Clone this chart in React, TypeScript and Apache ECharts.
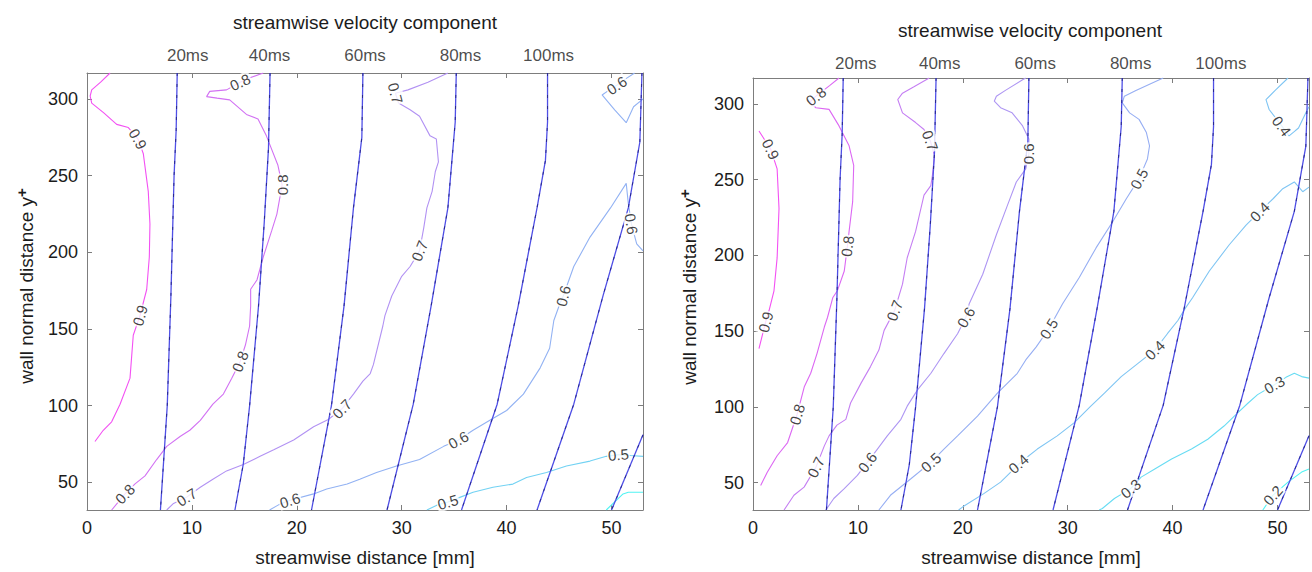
import React, { useEffect, useRef } from "react";
import * as echarts from "echarts";

// ---------- axis ticks / labels ----------
const xTicks = [0, 10, 20, 30, 40, 50];
const yTicks = [50, 100, 150, 200, 250, 300];
const timeLabels = ["20ms", "40ms", "60ms", "80ms", "100ms"];
const leftTimeLabelX = [9.6, 17.4, 26.5, 35.6, 44.0];
const rightTimeLabelX = [9.8, 17.8, 26.9, 36.0, 44.6];

// ---------- time lines (x mm, y+) ----------
const t20 = [[8.6, 317], [8.5, 280], [8.3, 250], [8.0, 172], [7.65, 100], [7.0, 32]];
const t40 = [[17.45, 317], [17.3, 268], [16.9, 220], [16.35, 165], [15.5, 100], [14.9, 62], [14.1, 32]];
const t60 = [[26.3, 317], [26.2, 275], [25.4, 229], [24.5, 165], [23.3, 100], [21.4, 32]];
const t80 = [[35.2, 317], [35.1, 285], [34.4, 229], [32.8, 165], [31.1, 101], [28.6, 32]];
const t100 = [[43.9, 317], [43.9, 285], [43.7, 260], [42.9, 229], [41.1, 165], [39.1, 101], [35.7, 32]];
const t120 = [[52.9, 317], [52.7, 272], [51.6, 229], [49.2, 172], [46.4, 101], [42.9, 32]];
const t140 = [[53, 81], [50.0, 32]];
const timeLines = [t20, t40, t60, t80, t100, t120, t140];

// ---------- left plot contours ----------
const L09 = [[2.2, 317], [1.3, 311], [0.45, 306], [0.3, 302], [0.45, 297.4], [1.6, 291], [2.83, 283.5], [3.94, 281.4], [4.86, 274], [5.37, 264.3], [5.84, 239.8], [6.0, 218.5], [5.94, 197], [5.69, 175.8], [5.05, 158.8], [4.41, 146], [4.1, 118], [3.15, 101], [2.35, 89.5], [1.55, 84], [0.76, 76.7]];
const L08 = [[16.8, 317], [15.6, 314], [14.6, 311], [13.3, 306], [11.7, 305], [11.4, 301.6], [12.4, 300.6], [13.6, 299.5], [15.2, 290], [16.3, 287], [17.1, 276], [18.2, 256.8], [18.6, 244], [18.1, 225], [17.6, 214], [16.8, 197], [16.2, 182], [15.6, 176], [15.6, 165], [15.5, 152], [15.1, 139.6], [14.6, 128.9], [13.8, 118], [13.0, 107.6], [12.0, 101], [10.8, 90.5], [9.8, 84], [8.87, 79.9], [7.6, 73.5], [6.64, 64.9], [5.53, 54.3], [4.58, 49], [3.62, 42.5], [2.35, 32]];
const L07 = [[34.4, 317], [32.5, 311], [30.6, 306], [29.4, 303.8], [29.7, 297.4], [30.8, 293], [31.7, 288.8], [32.7, 276], [33.3, 274], [33.5, 259], [33.2, 252.6], [32.9, 239.8], [32.4, 229], [32.1, 216], [31.7, 201], [30.8, 190.8], [30.0, 184.4], [29.05, 171.6], [28.4, 158.8], [28.2, 152], [27.3, 126.8], [27.0, 121], [26.3, 116], [25.4, 107.6], [24.3, 98], [23.0, 91], [21.6, 86.3], [19.7, 77.7], [17.8, 71.3], [16.5, 67], [14.9, 61.7], [13.3, 57.5], [12.0, 52], [10.8, 46.8], [9.5, 40.4], [8.2, 36], [7.6, 32]];
const L06a = [[52.2, 317], [51.2, 312.5], [50.5, 309], [49.8, 306], [49.1, 302.7], [50.3, 293], [51.4, 284.6], [52.1, 295], [52.9, 299.5], [53, 300]];
const L06b = [[53, 201], [52.4, 205.6], [51.9, 218.5], [51.6, 232], [51.4, 245], [49.9, 229], [47.95, 210], [46.4, 190.8], [45.4, 171.6], [45.1, 167], [44.5, 155.6], [44.1, 137.5], [43.2, 124.7], [41.6, 107.6], [40.0, 96.9], [38.4, 90.5], [36.8, 84], [35.4, 77.7], [34.0, 73.5], [31.7, 64.9], [29.5, 60.7], [27.6, 56.4], [26.0, 52.1], [24.8, 48.9], [22.85, 45.7], [21.6, 42.5], [19.35, 38.3], [18.3, 35.5], [17.4, 32]];
const L05 = [[53, 67], [51.8, 67.5], [50.65, 68.1], [49.5, 67], [47.95, 63.9], [45.7, 60.7], [43.8, 56.4], [41.9, 53.2], [40.6, 48.9], [38.7, 46.8], [36.8, 43.6], [35.6, 40.4], [34.4, 37.2], [33.3, 35], [32.4, 32]];
const L04 = [[49.5, 32], [51.1, 42.5], [51.6, 43.6], [53, 43.6]];

// [level, x, y, rotation]
const leftLabels = [
  [0.9, 4.86, 274, -61], [0.9, 5.05, 158.8, 74],
  [0.8, 14.6, 311, 25], [0.8, 18.6, 244, 90], [0.8, 14.6, 128.9, 68], [0.8, 3.62, 42.5, 45],
  [0.7, 29.4, 303.8, -75], [0.7, 31.7, 201, 68], [0.7, 24.3, 98, 46], [0.7, 9.5, 40.4, 32],
  [0.6, 50.5, 309, 34], [0.6, 51.9, 218.5, -81], [0.6, 45.4, 171.6, 75], [0.6, 35.4, 77.7, 29], [0.6, 19.35, 38.3, 17],
  [0.5, 50.65, 68.1, 5], [0.5, 34.4, 37.2, 17],
];

// ---------- right plot contours ----------
const R09 = [[0.57, 282], [1.69, 270], [2.3, 257], [2.48, 231], [2.3, 198.3], [2.0, 176.6], [1.53, 163.6], [1.2, 156], [0.57, 138.5]];
const R08 = [[8.2, 317], [7.3, 312], [6.0, 305], [5.4, 301], [6.0, 297.4], [7.25, 296.3], [8.2, 285.4], [9.16, 272.3], [9.6, 259.3], [9.5, 235.4], [9.16, 215.8], [9.0, 206], [8.7, 189.7], [8.04, 176.6], [7.6, 172], [7.1, 159], [6.8, 152.7], [6.1, 135.2], [5.5, 122.2], [4.9, 113.5], [4.2, 95], [3.3, 76.5], [2.3, 67.8], [1.36, 56.9], [0.73, 48.2]];
const R07 = [[16.8, 317], [15.3, 311], [14.25, 307], [13.8, 302.8], [14.25, 294], [15.5, 287.6], [16.3, 283], [16.9, 275.6], [17.3, 265.8], [17.1, 252.7], [16.95, 246], [16.3, 239.7], [15.5, 215.8], [14.7, 198.4], [14.25, 181], [13.5, 163.6], [12.5, 150.5], [12.0, 137.5], [11.2, 126.6], [10.3, 115.7], [9.3, 102.6], [8.85, 91.8], [8.0, 88], [7.25, 80.9], [6.8, 74.3], [6.0, 60.2], [4.87, 47.1], [3.9, 41.7], [2.96, 32]];
const R06 = [[26.0, 317], [25.7, 315.8], [24.1, 309], [23.2, 305], [23.0, 301.7], [23.6, 297.4], [24.7, 294], [25.7, 285.4], [26.3, 276.7], [26.3, 267], [26.0, 257], [25.1, 248.4], [24.2, 232], [23.2, 213.6], [21.9, 187.5], [20.6, 167.9], [20.3, 159.2], [19.5, 148.3], [18.2, 135.2], [16.96, 122.2], [15.7, 111.4], [14.7, 100.5], [14.1, 91.8], [12.8, 80.9], [11.86, 72.2], [10.9, 63.4], [9.95, 54.8], [8.7, 46.1], [7.7, 39.6], [6.94, 32]];
const R05 = [[39.1, 317], [36.5, 308.8], [35.4, 305], [35.2, 300.6], [35.9, 294], [36.8, 289.7], [37.5, 281], [37.8, 272.3], [37.6, 263.6], [36.8, 250.6], [35.6, 237.5], [34.3, 222.3], [32.7, 204.9], [31.1, 185.4], [29.5, 167.9], [28.2, 151.6], [27.0, 139.6], [26.0, 131], [25.2, 122.2], [23.3, 109.1], [21.4, 93.9], [19.5, 80.9], [18.2, 72.2], [16.96, 63.4], [15.05, 52.6], [13.1, 41.7], [12.0, 32]];
const R04a = [[51.0, 317], [49.8, 309], [48.9, 302.7], [49.2, 296.2], [50.4, 285.4], [51.1, 278.8], [52.0, 284], [52.7, 294], [53, 298]];
const R04b = [[53, 245], [52.4, 242], [51.6, 248.4], [50.5, 244], [49.6, 237.5], [48.3, 228.8], [47.0, 220], [45.4, 207], [43.5, 189.7], [41.9, 172], [41.2, 165], [40.5, 157], [39.5, 148.3], [38.3, 137.5], [36.7, 128.7], [35.1, 120], [33.5, 109.1], [32.2, 100.5], [30.6, 89.5], [29.0, 80.9], [27.1, 72.2], [25.6, 64], [25.2, 61.3], [23.6, 50.4], [22.0, 42.8], [20.0, 34.1], [19.6, 32]];
const R03 = [[53, 119], [52.3, 120], [51.6, 122.2], [50.8, 119.5], [49.7, 114.6], [48.1, 108.1], [47.2, 102.6], [46.2, 96.1], [44.9, 87.4], [43.35, 78.7], [41.8, 72.2], [39.9, 65.7], [38.3, 59.1], [37.0, 53.7], [36.0, 46.1], [34.45, 39.6], [33.3, 33], [33.0, 32]];
const R02 = [[48.6, 32], [49.55, 41.7], [51.0, 50.4], [52.3, 57], [53, 59]];

const rightLabels = [
  [0.9, 1.69, 270, -64], [0.9, 1.2, 156, 75],
  [0.8, 6.0, 305, 38], [0.8, 9.0, 206, 83], [0.8, 4.2, 95, 74],
  [0.7, 16.9, 275.6, -70], [0.7, 13.5, 163.6, 69], [0.7, 6.0, 60.2, 64],
  [0.6, 26.3, 267, 90], [0.6, 20.3, 159.2, 60], [0.6, 10.9, 63.4, 53],
  [0.5, 36.8, 250.6, 62], [0.5, 28.2, 151.6, 58], [0.5, 16.96, 63.4, 42],
  [0.4, 50.4, 285.4, -53], [0.4, 48.3, 228.8, 45], [0.4, 38.3, 137.5, 45], [0.4, 25.3, 62.5, 42],
  [0.3, 49.7, 114.6, 30], [0.3, 36.0, 46.1, 39],
  [0.2, 49.55, 41.7, 48],
];

const leftContours: [number, number[][]][] = [
  [0.9, L09], [0.8, L08], [0.7, L07], [0.6, L06a], [0.6, L06b], [0.5, L05], [0.4, L04],
];
const rightContours: [number, number[][]][] = [
  [0.9, R09], [0.8, R08], [0.7, R07], [0.6, R06], [0.5, R05], [0.4, R04a], [0.4, R04b], [0.3, R03], [0.2, R02],
];

const FONT = '"Liberation Sans", Arial, Helvetica, sans-serif';
const TEXT = "#1c1c1c";
const FRAME = "#7d7d7d";

function coolColor(v: number, lo: number, hi: number) {
  const t = Math.max(0, Math.min(1, (v - lo) / (hi - lo)));
  const w = 0.28;
  const g = 0.12; // slight grey mix to desaturate
  const mix = (c: number) => Math.round(((c * (1 - w) + w) * (1 - g) + 0.6 * g) * 255);
  return `rgb(${mix(t)},${mix(1 - t)},${mix(1)})`;
}

function axesFor(p: number) {
  const tickStyle = { color: FRAME, width: 1 };
  const xBottom = {
    type: "value", gridIndex: p, min: 0, max: 53, position: "bottom",
    axisLine: { show: true, onZero: false, lineStyle: tickStyle },
    axisTick: { show: true, inside: true, length: 5, customValues: xTicks, lineStyle: tickStyle },
    axisLabel: { show: true, customValues: xTicks, margin: 9, fontSize: 18, color: TEXT, fontFamily: FONT },
    splitLine: { show: false },
    name: "streamwise distance [mm]", nameLocation: "middle", nameGap: 38,
    nameTextStyle: { fontSize: 19, color: TEXT, fontFamily: FONT },
  };
  const xTop = {
    type: "value", gridIndex: p, min: 0, max: 53, position: "top",
    axisLine: { show: true, onZero: false, lineStyle: tickStyle },
    axisTick: { show: true, inside: true, length: 5, customValues: xTicks, lineStyle: tickStyle },
    axisLabel: { show: false }, splitLine: { show: false },
  };
  const yLeft = {
    type: "value", gridIndex: p, min: 32, max: 317, position: "left",
    axisLine: { show: true, onZero: false, lineStyle: tickStyle },
    axisTick: { show: true, inside: true, length: 5, customValues: yTicks, lineStyle: tickStyle },
    axisLabel: { show: true, customValues: yTicks, margin: 9, fontSize: 18, color: TEXT, fontFamily: FONT },
    splitLine: { show: false },
  };
  const yRight = {
    type: "value", gridIndex: p, min: 32, max: 317, position: "right",
    axisLine: { show: true, onZero: false, lineStyle: tickStyle },
    axisTick: { show: true, inside: true, length: 5, customValues: yTicks, lineStyle: tickStyle },
    axisLabel: { show: false }, splitLine: { show: false },
  };
  return { x: [xBottom, xTop], y: [yLeft, yRight] };
}

function seriesFor(p: number, contours: [number, number[][]][], labels: number[][], tlx: number[], lo: number, hi: number, tlDist: number) {
  const xi = 2 * p, yi = 2 * p;
  const out: any[] = [];
  contours.forEach(([lv, pts]) => {
    out.push({
      type: "line", xAxisIndex: xi, yAxisIndex: yi, data: pts, symbol: "none", showSymbol: false,
      silent: true, z: 3, lineStyle: { color: coolColor(lv, lo, hi), width: 1.1 },
    });
  });
  timeLines.forEach((pts) => {
    out.push({
      type: "line", xAxisIndex: xi, yAxisIndex: yi, data: pts, symbol: "none", showSymbol: false,
      silent: true, z: 4, lineStyle: { color: "#4f4fe6", width: 1.3 },
    });
    out.push({
      type: "line", xAxisIndex: xi, yAxisIndex: yi, data: pts, symbol: "none", showSymbol: false,
      silent: true, z: 4, lineStyle: { color: "#222282", width: 0.9, type: [3, 8] },
    });
  });
  out.push({
    type: "scatter", xAxisIndex: xi, yAxisIndex: yi, symbolSize: 1, silent: true, z: 6,
    itemStyle: { color: "rgba(0,0,0,0)" },
    label: {
      show: true, position: "inside", formatter: (q: any) => q.data.name,
      fontSize: 15, color: "#111", fontFamily: FONT, backgroundColor: "#fff", padding: [0, 1],
    },
    data: labels.map(([v, x, y, r]) => ({ name: v.toFixed(1), value: [x, y], label: { rotate: r } })),
  });
  out.push({
    type: "scatter", xAxisIndex: xi, yAxisIndex: yi, symbolSize: 1, silent: true, z: 6, clip: false,
    itemStyle: { color: "rgba(0,0,0,0)" },
    label: {
      show: true, position: "top", distance: tlDist, formatter: (q: any) => q.data.name,
      fontSize: 17, color: TEXT, fontFamily: FONT,
    },
    data: tlx.map((x, i) => ({ name: timeLabels[i], value: [x, 317] })),
  });
  return out;
}

export default function App() {
  const ref = useRef<HTMLDivElement>(null);
  useEffect(() => {
    if (!ref.current) return;
    const chart = echarts.init(ref.current, null, { renderer: "svg" });
    const a0 = axesFor(0);
    const a1 = axesFor(1);
    const yName = (x: number, y: number) => ({
      type: "text", x, y, rotation: Math.PI / 2,
      style: {
        text: "{a|wall normal distance y}{b|+}",
        rich: {
          a: { fontSize: 19, fontFamily: FONT, fill: TEXT, lineHeight: 24 },
          b: { fontSize: 15, fontWeight: "bold", fontFamily: FONT, fill: TEXT, verticalAlign: "top", lineHeight: 14 },
        },
        align: "center", verticalAlign: "middle", textAlign: "center", textVerticalAlign: "middle",
      },
    });
    const title = (x: number, y: number) => ({
      type: "text", x, y,
      style: {
        text: "streamwise velocity component", fontSize: 19, fontFamily: FONT, fill: TEXT,
        align: "center", verticalAlign: "middle", textAlign: "center", textVerticalAlign: "middle",
      },
    });
    chart.setOption({
      animation: false,
      backgroundColor: "#ffffff",
      grid: [
        { left: 87, top: 73, width: 556, height: 443, show: false },
        { left: 753, top: 78, width: 556, height: 438, show: false },
      ],
      xAxis: [...a0.x, ...a1.x],
      yAxis: [...a0.y, ...a1.y],
      series: [
        ...seriesFor(0, leftContours, leftLabels, leftTimeLabelX, 0.4, 0.9, 9),
        ...seriesFor(1, rightContours, rightLabels, rightTimeLabelX, 0.2, 0.9, 6),
      ],
      graphic: [title(365, 22), title(1030, 30), yName(26, 286), yName(689, 287)],
    });
    return () => chart.dispose();
  }, []);
  return (
    <div
      ref={ref}
      style={{ position: "fixed", left: 0, top: 0, width: 1312, height: 572, background: "#fff" }}
    />
  );
}
